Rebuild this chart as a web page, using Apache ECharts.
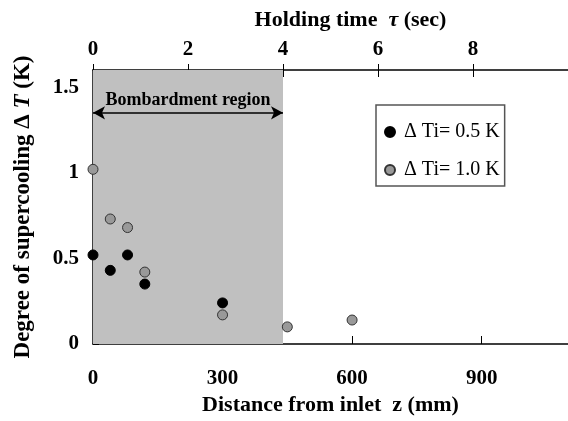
<!DOCTYPE html>
<html>
<head>
<meta charset="utf-8">
<script src="https://cdn.jsdelivr.net/npm/echarts@6/dist/echarts.min.js"></script>
<style>html,body{margin:0;padding:0;background:#fff;}#c{width:568px;height:421px;}</style>
</head>
<body>
<div id="c"></div>
<script>
// Data
var zBlack = [0, 40, 80, 120, 300];
var dtBlack = [0.52, 0.43, 0.52, 0.35, 0.24];
var zGray = [0, 40, 80, 120, 300, 450, 600];
var dtGray = [1.02, 0.73, 0.68, 0.42, 0.17, 0.10, 0.14];
var bombardStart = 0;      // mm
var bombardEnd = 440;      // mm (4 sec)
var arrowLevel = 1.35;     // K
var seriesNames = ['\u0394 Ti= 0.5 K', '\u0394 Ti= 1.0 K'];
var xRange = [0, 1100];    // mm
var tauRange = [0, 10];    // sec
var yRange = [0, 1.6];     // K

var FONT = 'Liberation Serif, Times New Roman, serif';
function pairs(xs, ys){ return xs.map(function(x,i){ return [x, ys[i]]; }); }

var chart = echarts.init(document.getElementById('c'), null, {renderer:'canvas'});
chart.setOption({
  animation: false,
  backgroundColor: '#fff',
  textStyle: {fontFamily: FONT},
  grid: {left: 93, top: 70, right: 0, bottom: 77, containLabel: false},
  legend: {
    orient: 'vertical', left: 376, top: 105,
    data: seriesNames,
    icon: 'circle', itemWidth: 18, itemHeight: 10, itemGap: 18,
    padding: [17, 5, 6, 8],
    borderColor: '#555', borderWidth: 1.5,
    textStyle: {fontFamily: FONT, fontSize: 20, color: '#000'}
  },
  xAxis: [
    {
      type: 'value', position: 'bottom', min: xRange[0], max: xRange[1], interval: 300,
      name: 'Distance from inlet  z (mm)', nameLocation: 'middle', nameGap: 49,
      nameTextStyle: {fontFamily: FONT, fontWeight: 'bold', fontSize: 22, color: '#000'},
      axisLine: {show: true, lineStyle: {color: '#000', width: 1.5}},
      axisTick: {show: true, inside: true, length: 8, lineStyle: {color: '#000', width: 1}},
      axisLabel: {show: true, margin: 24, showMaxLabel: false, fontFamily: FONT, fontWeight: 'bold', fontSize: 21, color: '#000'},
      splitLine: {show: false}
    },
    {
      type: 'value', position: 'top', min: tauRange[0], max: tauRange[1], interval: 2,
      name: 'Holding time  {i|\u03c4} (sec)', nameLocation: 'middle', nameGap: 39,
      nameTextStyle: {fontFamily: FONT, fontWeight: 'bold', fontSize: 22, color: '#000', padding: [0,0,0,40],
        rich: {i: {fontFamily: FONT, fontStyle: 'italic', fontWeight: 'bold', fontSize: 22, color: '#000'}}},
      axisLine: {show: true, lineStyle: {color: '#000', width: 1.5}},
      axisTick: {show: true, inside: true, length: 7, lineStyle: {color: '#000', width: 1}},
      axisLabel: {show: true, margin: 10, showMaxLabel: false, fontFamily: FONT, fontWeight: 'bold', fontSize: 21, color: '#000'},
      splitLine: {show: false}
    },
    {
      type: 'value', position: 'top', min: tauRange[0], max: tauRange[1], interval: 2,
      axisLine: {show: false},
      axisTick: {show: true, inside: false, length: 6, lineStyle: {color: '#000', width: 1}},
      axisLabel: {show: false},
      splitLine: {show: false}
    }
  ],
  yAxis: {
    type: 'value', min: yRange[0], max: yRange[1], interval: 0.5,
    name: 'Degree of supercooling \u0394 {i|T} (K)', nameLocation: 'middle', nameGap: 58,
    nameTextStyle: {fontFamily: FONT, fontWeight: 'bold', fontSize: 23, color: '#000',
      rich: {i: {fontFamily: FONT, fontStyle: 'italic', fontWeight: 'bold', fontSize: 23, color: '#000'}}},
    axisLine: {show: true, lineStyle: {color: '#000', width: 1.5}},
    axisTick: {show: true, inside: true, length: 6, lineStyle: {color: '#000', width: 1}},
    axisLabel: {show: true, margin: 14, showMaxLabel: false, fontFamily: FONT, fontWeight: 'bold', fontSize: 21, color: '#000'},
    splitLine: {show: false}
  },
  series: [
    {
      type: 'line', name: 'region', data: [], z: 1, silent: true,
      markArea: {
        silent: true,
        itemStyle: {color: '#c0c0c0', opacity: 1},
        data: [[{xAxis: bombardStart}, {xAxis: bombardEnd}]]
      },
      markLine: {
        silent: true, symbol: ['arrow', 'arrow'], symbolSize: [10, 12],
        lineStyle: {color: '#000', width: 1.5, type: 'solid'},
        label: {show: true, position: 'insideMiddleTop', distance: 3, formatter: 'Bombardment region',
          fontFamily: FONT, fontWeight: 'bold', fontSize: 18, color: '#000'},
        data: [[{coord: [bombardStart, arrowLevel]}, {coord: [bombardEnd, arrowLevel]}]]
      }
    },
    {
      type: 'scatter', name: seriesNames[0], z: 3,
      symbol: 'circle', symbolSize: 10,
      itemStyle: {color: '#000', borderColor: '#000', borderWidth: 1, opacity: 1},
      data: pairs(zBlack, dtBlack)
    },
    {
      type: 'scatter', name: seriesNames[1], z: 3,
      symbol: 'circle', symbolSize: 10,
      itemStyle: {color: '#999', borderColor: '#333', borderWidth: 1, opacity: 1},
      data: pairs(zGray, dtGray)
    }
  ]
});
</script>
</body>
</html>
